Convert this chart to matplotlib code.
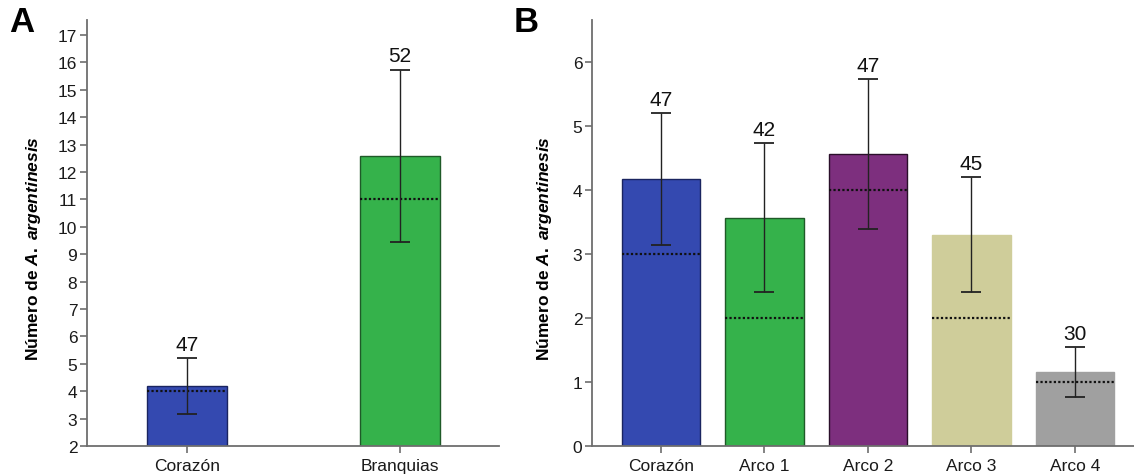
"Bar charts of A. argentinesis counts per organ"
import matplotlib
matplotlib.use('Agg')
import matplotlib.pyplot as plt
import numpy as np

plt.rcParams['font.family'] = ['Liberation Sans', 'DejaVu Sans']
plt.rcParams['mathtext.fontset'] = 'custom'
plt.rcParams['mathtext.it'] = 'Liberation Sans:italic:bold'
plt.rcParams['mathtext.rm'] = 'Liberation Sans:bold'

# panel A
organs_a = ['Corazón', 'Branquias']
mean_a = [4.19, 12.58]
median_a = [4.0, 11.0]
err_lo_a = [3.15, 9.44]
err_hi_a = [5.21, 15.74]
n_a = [47, 52]
colors_a = ['#3449b0', '#35b24b']
edges_a = ['#1a2460', '#1f5a28']

# panel B
organs_b = ['Corazón', 'Arco 1', 'Arco 2', 'Arco 3', 'Arco 4']
mean_b = [4.18, 3.57, 4.57, 3.30, 1.15]
median_b = [3.0, 2.0, 4.0, 2.0, 1.0]
err_lo_b = [3.15, 2.40, 3.39, 2.41, 0.77]
err_hi_b = [5.21, 4.73, 5.73, 4.20, 1.55]
n_b = [47, 42, 47, 45, 30]
colors_b = ['#3449b0', '#35b24b', '#7d2f7e', '#cfcd9a', '#a0a0a0']
edges_b = ['#1a2460', '#1f5a28', '#2a0f2a', '#cfcd9a', '#a0a0a0']

YLABEL = 'Número de $\\mathit{A.\\ argentinesis}$'
AXCOL = '#6e6e6e'


def draw_panel(ax, names, mean, median, lo, hi, counts, colors, edges, width):
    "bars with median line, range error bars and counts on top"
    x = np.arange(len(names))
    ax.bar(x, mean, width=width, color=colors, edgecolor=edges, linewidth=1.0, zorder=2)
    ax.hlines(median, x - width / 2, x + width / 2, colors='#111111',
              linestyles=(0, (1, 1)), linewidth=1.6, zorder=3)
    mean = np.array(mean)
    yerr = [mean - np.array(lo), np.array(hi) - mean]
    ax.errorbar(x, mean, yerr=yerr, fmt='none', ecolor='#222222', elinewidth=1.0,
                capsize=7.2, capthick=1.3, zorder=4)
    for xi, top, n in zip(x, hi, counts):
        ax.annotate(str(n), (xi, top), xytext=(0, 3), textcoords='offset points',
                    ha='center', va='bottom', fontsize=15, color='#111111')
    ax.set_xticks(x)
    ax.set_xticklabels(names)
    for side in ['top', 'right']:
        ax.spines[side].set_visible(False)
    for side in ['left', 'bottom']:
        ax.spines[side].set_color(AXCOL)
        ax.spines[side].set_linewidth(1.3)
    ax.tick_params(axis='both', colors=AXCOL, labelcolor='#1a1a1a', labelsize=12.5,
                   length=5, width=1.2)
    ax.tick_params(axis='y', pad=2)
    ax.tick_params(axis='x', pad=4)
    ax.set_ylabel(YLABEL, fontsize=12.5, fontweight='bold')


def main():
    fig = plt.figure(figsize=(11.34, 4.77), dpi=100)

    ax_a = fig.add_axes([87 / 1134, 30 / 477, 412 / 1134, 426 / 477])
    draw_panel(ax_a, organs_a, mean_a, median_a, err_lo_a, err_hi_a, n_a,
               colors_a, edges_a, 0.375)
    ax_a.set_ylim(2, 17.55)
    ax_a.set_yticks(range(2, 18))
    ax_a.set_xlim(-0.47, 1.465)
    ax_a.yaxis.set_label_coords(-0.108, 0.465)

    ax_b = fig.add_axes([592 / 1134, 30 / 477, 545 / 1134, 426 / 477])
    draw_panel(ax_b, organs_b, mean_b, median_b, err_lo_b, err_hi_b, n_b,
               colors_b, edges_b, 0.76)
    ax_b.set_ylim(0, 6.66)
    ax_b.set_yticks(range(0, 7))
    ax_b.set_xlim(-0.667, 4.6)
    ax_b.yaxis.set_label_coords(-0.07, 0.465)

    fig.text(22 / 1134, 1 - 23 / 477, 'A', fontsize=25, fontweight='bold',
             ha='center', va='center')
    fig.text(526 / 1134, 1 - 23 / 477, 'B', fontsize=25, fontweight='bold',
             ha='center', va='center')

    fig.savefig('out.png', dpi=100)


if __name__ == '__main__':
    main()
